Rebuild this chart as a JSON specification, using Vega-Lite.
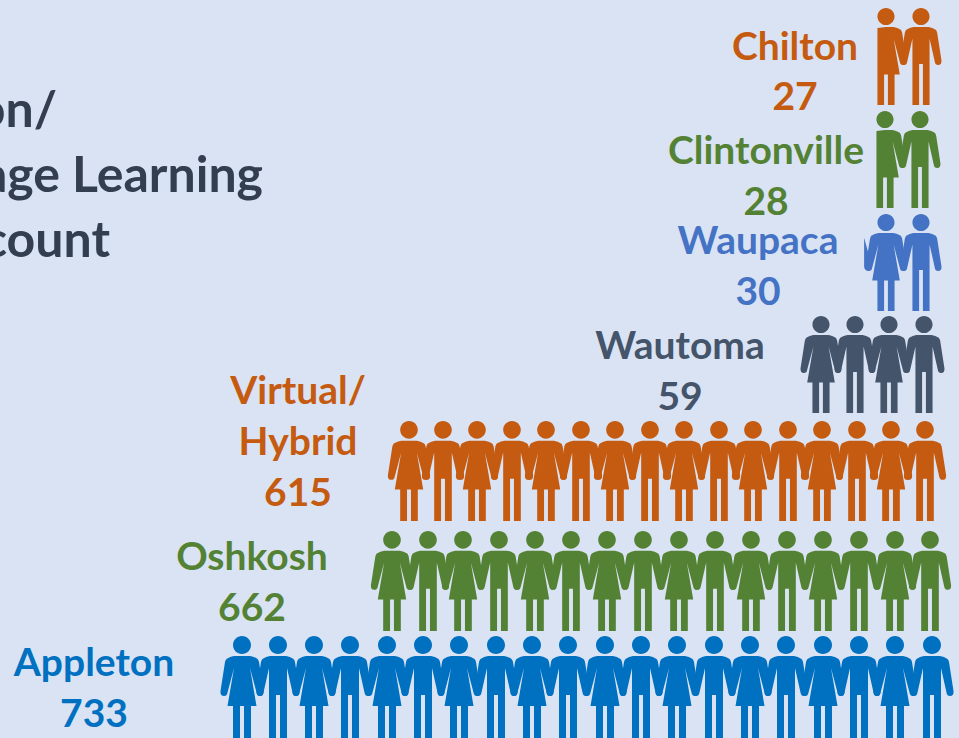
{"$schema":"https://vega.github.io/schema/vega-lite/v6.json","width":959,"height":738,"padding":0,"autosize":{"type":"none"},"background":"#DAE3F3","view":{"stroke":null},
"datasets":{"people":[
{"location":"Appleton","figure":"woman","x":242,"y":687},{"location":"Appleton","figure":"man","x":278,"y":687},{"location":"Appleton","figure":"woman","x":314,"y":687},{"location":"Appleton","figure":"man","x":350,"y":687},{"location":"Appleton","figure":"woman","x":387,"y":687},{"location":"Appleton","figure":"man","x":423,"y":687},{"location":"Appleton","figure":"woman","x":459,"y":687},{"location":"Appleton","figure":"man","x":496,"y":687},{"location":"Appleton","figure":"woman","x":532,"y":687},{"location":"Appleton","figure":"man","x":568,"y":687},{"location":"Appleton","figure":"woman","x":605,"y":687},{"location":"Appleton","figure":"man","x":641,"y":687},{"location":"Appleton","figure":"woman","x":677,"y":687},{"location":"Appleton","figure":"man","x":714,"y":687},{"location":"Appleton","figure":"woman","x":750,"y":687},{"location":"Appleton","figure":"man","x":786,"y":687},{"location":"Appleton","figure":"woman","x":823,"y":687},{"location":"Appleton","figure":"man","x":859,"y":687},{"location":"Appleton","figure":"woman","x":895,"y":687},{"location":"Appleton","figure":"man","x":932,"y":687},
{"location":"Oshkosh","figure":"woman","x":392,"y":581},{"location":"Oshkosh","figure":"man","x":428,"y":581},{"location":"Oshkosh","figure":"woman","x":463,"y":581},{"location":"Oshkosh","figure":"man","x":499,"y":581},{"location":"Oshkosh","figure":"woman","x":535,"y":581},{"location":"Oshkosh","figure":"man","x":571,"y":581},{"location":"Oshkosh","figure":"woman","x":607,"y":581},{"location":"Oshkosh","figure":"man","x":643,"y":581},{"location":"Oshkosh","figure":"woman","x":679,"y":581},{"location":"Oshkosh","figure":"man","x":715,"y":581},{"location":"Oshkosh","figure":"woman","x":751,"y":581},{"location":"Oshkosh","figure":"man","x":787,"y":581},{"location":"Oshkosh","figure":"woman","x":823,"y":581},{"location":"Oshkosh","figure":"man","x":859,"y":581},{"location":"Oshkosh","figure":"woman","x":895,"y":581},{"location":"Oshkosh","figure":"man","x":930,"y":581},
{"location":"Virtual/Hybrid","figure":"woman","x":409,"y":471},{"location":"Virtual/Hybrid","figure":"man","x":443,"y":471},{"location":"Virtual/Hybrid","figure":"woman","x":477,"y":471},{"location":"Virtual/Hybrid","figure":"man","x":512,"y":471},{"location":"Virtual/Hybrid","figure":"woman","x":546,"y":471},{"location":"Virtual/Hybrid","figure":"man","x":581,"y":471},{"location":"Virtual/Hybrid","figure":"woman","x":615,"y":471},{"location":"Virtual/Hybrid","figure":"man","x":650,"y":471},{"location":"Virtual/Hybrid","figure":"woman","x":684,"y":471},{"location":"Virtual/Hybrid","figure":"man","x":719,"y":471},{"location":"Virtual/Hybrid","figure":"woman","x":753,"y":471},{"location":"Virtual/Hybrid","figure":"man","x":788,"y":471},{"location":"Virtual/Hybrid","figure":"woman","x":822,"y":471},{"location":"Virtual/Hybrid","figure":"man","x":857,"y":471},{"location":"Virtual/Hybrid","figure":"woman","x":891,"y":471},{"location":"Virtual/Hybrid","figure":"man","x":925,"y":471},
{"location":"Wautoma","figure":"woman","x":821,"y":364.5},{"location":"Wautoma","figure":"man","x":855,"y":364.5},{"location":"Wautoma","figure":"woman","x":889,"y":364.5},{"location":"Wautoma","figure":"man","x":924,"y":364.5},
{"location":"Waupaca","figure":"womanArmCut","x":886,"y":262.5},{"location":"Waupaca","figure":"man","x":921,"y":262.5},
{"location":"Clintonville","figure":"womanCut","x":885,"y":159.5},{"location":"Clintonville","figure":"man","x":920,"y":159.5},
{"location":"Chilton","figure":"womanCut","x":886,"y":56.5},{"location":"Chilton","figure":"man","x":921,"y":56.5}
],
"labels":[
{"location":"Appleton","text":"Appleton","x":94,"y":664},{"location":"Appleton","text":"733","x":94,"y":715},
{"location":"Oshkosh","text":"Oshkosh","x":252,"y":558},{"location":"Oshkosh","text":"662","x":252,"y":609},
{"location":"Virtual/Hybrid","text":"Virtual/","x":298,"y":392},{"location":"Virtual/Hybrid","text":"Hybrid","x":298,"y":443},{"location":"Virtual/Hybrid","text":"615","x":298,"y":494},
{"location":"Wautoma","text":"Wautoma","x":680,"y":347},{"location":"Wautoma","text":"59","x":680,"y":398},
{"location":"Waupaca","text":"Waupaca","x":758,"y":242},{"location":"Waupaca","text":"30","x":758,"y":293},
{"location":"Clintonville","text":"Clintonville","x":766,"y":152},{"location":"Clintonville","text":"28","x":766,"y":203},
{"location":"Chilton","text":"Chilton","x":795,"y":48},{"location":"Chilton","text":"27","x":795,"y":98}
],
"title":[{"text":"Location/","x":57,"y":112},{"text":"Language Learning","x":263,"y":177},{"text":"Headcount","x":110,"y":242}]
},
"layer":[
{"data":{"name":"people"},"mark":{"type":"point","filled":true,"opacity":1,"strokeWidth":0},
"encoding":{
"x":{"field":"x","type":"quantitative","scale":{"domain":[0,959],"nice":false,"zero":false},"axis":null},
"y":{"field":"y","type":"quantitative","scale":{"domain":[738,0],"nice":false,"zero":false},"axis":null},
"color":{"field":"location","type":"nominal","legend":null,"scale":{"domain":["Appleton","Oshkosh","Virtual/Hybrid","Wautoma","Waupaca","Clintonville","Chilton"],"range":["#0070C0","#548235","#C55A11","#44546A","#4472C4","#548235","#C55A11"]}},
"size":{"field":"location","type":"nominal","legend":null,"scale":{"type":"ordinal","domain":["Appleton","Oshkosh","Virtual/Hybrid","Wautoma","Waupaca","Clintonville","Chilton"],"range":[4,3.84,3.84,3.62,3.62,3.62,3.62]}},
"shape":{"field":"figure","type":"nominal","legend":null,"scale":{"domain":["man","woman","womanCut","womanArmCut"],"range":[
"M-9-42C-9-47-5-51 0-51C5-51 9-47 9-42C9-37 5-33 0-33C-5-33-9-37-9-42ZM0-31L8-31Q12-30.5 15.5-28Q16.5-27 17-25L21.5 4Q22 9 18 9Q15 9 14.5 5.5L9-19L9 51L2 51L2 8L-2 8L-2 51L-9 51L-9-19L-14.5 5.5Q-15 9-18 9Q-22 9-21.5 4L-17-25Q-16.5-27-15.5-28Q-12-30.5-8-31Z",
"M-9-42C-9-47-5-51 0-51C5-51 9-47 9-42C9-37 5-33 0-33C-5-33-9-37-9-42ZM0-31L8-31Q12-30.5 15.5-28Q16.5-27 17-25L21.5 4Q22 9 18 9Q15 9 14.5 5.5L8-19L14.5 19L9 19L9 51L2 51L2 19L-2 19L-2 51L-9 51L-9 19L-14.5 19L-8-19L-14.5 5.5Q-15 9-18 9Q-22 9-21.5 4L-17-25Q-16.5-27-15.5-28Q-12-30.5-8-31Z",
"M-9-42C-9-47-5-51 0-51C5-51 9-47 9-42C9-37 5-33 0-33C-5-33-9-37-9-42ZM0-31L8-31Q12-30.5 15.5-28Q16.5-27 17-25L21.5 4Q22 9 18 9Q15 9 14.5 5.5L8-19L14.5 19L9 19L9 51L2 51L2 19L-2 19L-2 51L-9 51L-9-30Z",
"M-9-42C-9-47-5-51 0-51C5-51 9-47 9-42C9-37 5-33 0-33C-5-33-9-37-9-42ZM0-31L8-31Q12-30.5 15.5-28Q16.5-27 17-25L21.5 4Q22 9 18 9Q15 9 14.5 5.5L8-19L14.5 19L9 19L9 51L2 51L2 19L-2 19L-2 51L-9 51L-9 19L-14.5 19L-8-19L-14.5 5.5Q-15 9-18 9Q-23 9-23 4L-23-26L-19-11.5L-17-24Q-16.5-27-15.5-28Q-12-30.5-8-31Z"
]}}
}},
{"data":{"name":"labels"},"mark":{"type":"text","font":"Lato","fontWeight":"bold","fontSize":39,"align":"center","baseline":"middle"},
"encoding":{
"x":{"field":"x","type":"quantitative","axis":null},
"y":{"field":"y","type":"quantitative","axis":null},
"text":{"field":"text","type":"nominal"},
"color":{"field":"location","type":"nominal","legend":null}
}},
{"data":{"name":"title"},"mark":{"type":"text","font":"Lato","fontWeight":"bold","fontSize":50,"align":"right","baseline":"middle","color":"#333F50"},
"encoding":{
"x":{"field":"x","type":"quantitative","axis":null},
"y":{"field":"y","type":"quantitative","axis":null},
"text":{"field":"text","type":"nominal"}
}}
]}
